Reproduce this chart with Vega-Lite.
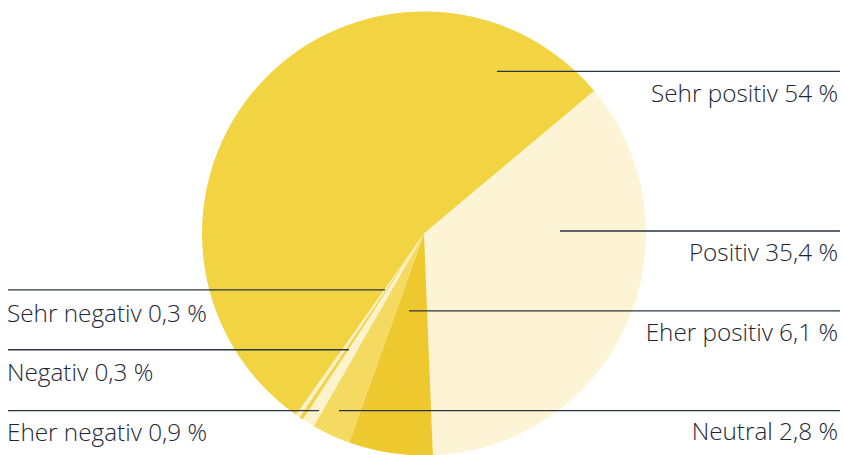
{
  "$schema": "https://vega.github.io/schema/vega-lite/v6.json",
  "width": 843,
  "height": 455,
  "autosize": {"type": "fit", "contains": "padding"},
  "padding": 0,
  "background": "#ffffff",
  "config": {"view": {"stroke": null}},
  "datasets": {
    "slices": [
      {"category": "Positiv", "value": 35.4, "order": 1},
      {"category": "Eher positiv", "value": 6.1, "order": 2},
      {"category": "Neutral", "value": 2.8, "order": 3},
      {"category": "Eher negativ", "value": 0.9, "order": 4},
      {"category": "Negativ", "value": 0.3, "order": 5},
      {"category": "Sehr negativ", "value": 0.3, "order": 6},
      {"category": "Sehr positiv", "value": 54, "order": 7}
    ],
    "labels": [
      {"label": "Sehr positiv 54 %", "side": "right", "x1": 497, "x2": 840, "ly": 71.5, "tx": 838, "ty": 102},
      {"label": "Positiv 35,4 %", "side": "right", "x1": 560, "x2": 840, "ly": 231.5, "tx": 838, "ty": 262},
      {"label": "Eher positiv 6,1 %", "side": "right", "x1": 409, "x2": 840, "ly": 311.5, "tx": 838, "ty": 342},
      {"label": "Neutral 2,8 %", "side": "right", "x1": 339, "x2": 840, "ly": 411.5, "tx": 838, "ty": 441},
      {"label": "Sehr negativ 0,3 %", "side": "left", "x1": 8, "x2": 385, "ly": 290.5, "tx": 7, "ty": 323},
      {"label": "Negativ 0,3 %", "side": "left", "x1": 8, "x2": 349, "ly": 350.5, "tx": 7, "ty": 382},
      {"label": "Eher negativ 0,9 %", "side": "left", "x1": 8, "x2": 319, "ly": 411.5, "tx": 7, "ty": 442}
    ]
  },
  "layer": [
    {
      "data": {"name": "slices"},
      "mark": {"type": "arc", "outerRadius": 222, "stroke": null},
      "encoding": {
        "theta": {"field": "value", "type": "quantitative", "stack": true, "scale": {"range": [0.8727, 7.1559]}},
        "order": {"field": "order", "type": "quantitative", "sort": "ascending"},
        "color": {
          "field": "category", "type": "nominal", "legend": null,
          "scale": {
            "domain": ["Sehr positiv", "Positiv", "Eher positiv", "Neutral", "Eher negativ", "Negativ", "Sehr negativ"],
            "range": ["#f2d443", "#fdf4d6", "#edc92f", "#f5da62", "#fcf2cc", "#f1d345", "#fbf1cc"]
          }
        },
        "x": {"datum": 424, "type": "quantitative", "scale": {"domain": [0, 843], "nice": false, "zero": false}, "axis": null},
        "y": {"datum": 234, "type": "quantitative", "scale": {"domain": [0, 455], "nice": false, "zero": false, "reverse": true}, "axis": null}
      }
    },
    {
      "data": {"name": "labels"},
      "mark": {"type": "rule", "color": "#2b3441", "strokeWidth": 1.3},
      "encoding": {
        "x": {"field": "x1", "type": "quantitative"},
        "x2": {"field": "x2"},
        "y": {"field": "ly", "type": "quantitative"}
      }
    },
    {
      "data": {"name": "labels"},
      "transform": [{"filter": "datum.side === 'right'"}],
      "mark": {"type": "text", "align": "right", "baseline": "alphabetic", "font": "Open Sans", "fontWeight": 300, "fontSize": 24.3, "color": "#1c2636"},
      "encoding": {
        "x": {"field": "tx", "type": "quantitative"},
        "y": {"field": "ty", "type": "quantitative"},
        "text": {"field": "label"}
      }
    },
    {
      "data": {"name": "labels"},
      "transform": [{"filter": "datum.side === 'left'"}],
      "mark": {"type": "text", "align": "left", "baseline": "alphabetic", "font": "Open Sans", "fontWeight": 300, "fontSize": 24.3, "color": "#1c2636"},
      "encoding": {
        "x": {"field": "tx", "type": "quantitative"},
        "y": {"field": "ty", "type": "quantitative"},
        "text": {"field": "label"}
      }
    }
  ]
}
